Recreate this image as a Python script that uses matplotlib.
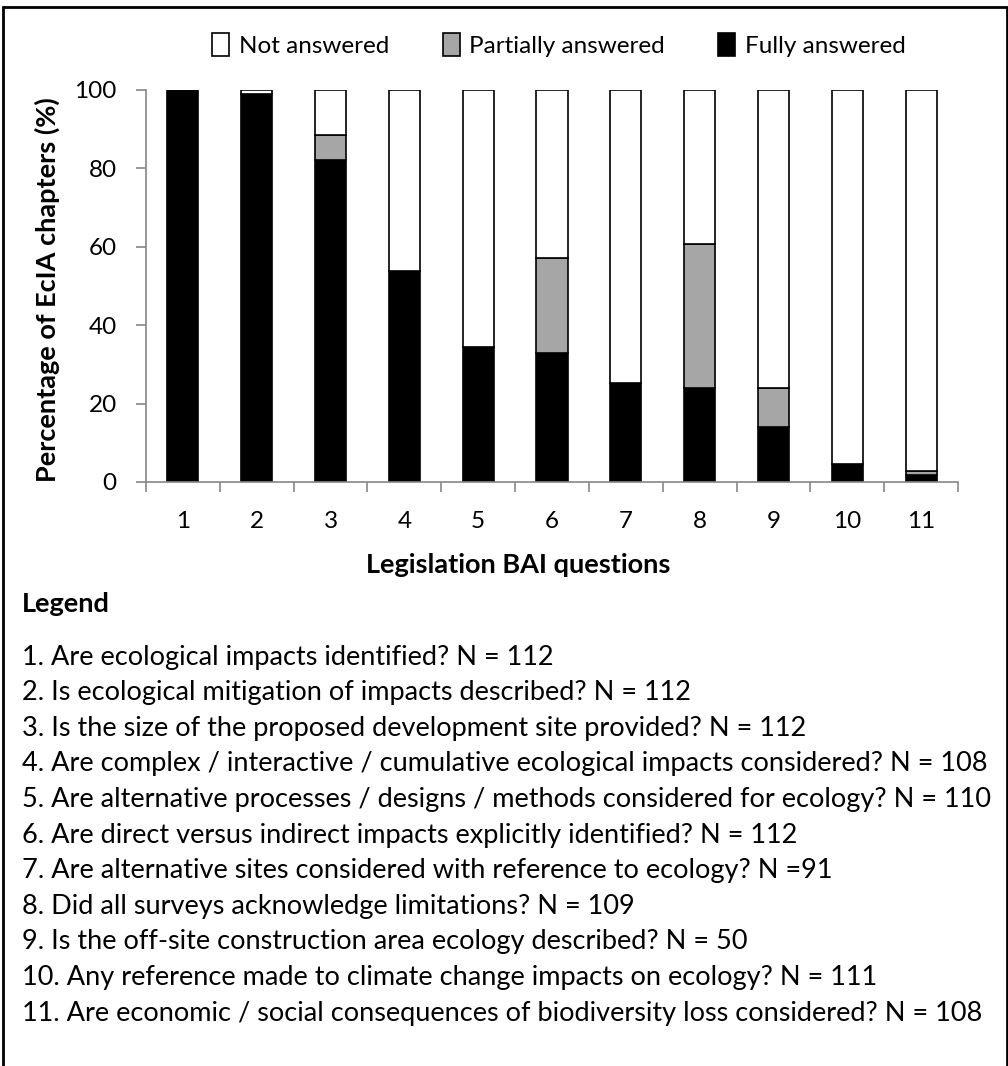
import matplotlib.pyplot as plt
import matplotlib.patches as mpatches
import numpy as np

plt.rcParams['font.family'] = ['Lato', 'DejaVu Sans']

# data (% of EcIA chapters)
questions = [1, 2, 3, 4, 5, 6, 7, 8, 9, 10, 11]
fully = [100, 99.1, 82.1, 53.7, 34.5, 33.0, 25.3, 23.9, 14.0, 4.5, 1.9]
partial = [0, 0, 6.3, 0, 0, 24.1, 0, 36.7, 10.0, 0, 0.9]
not_answered = [100 - f - p for f, p in zip(fully, partial)]

legend_lines = [
    "1. Are ecological impacts identified? N = 112",
    "2. Is ecological mitigation of impacts described? N = 112",
    "3. Is the size of the proposed development site provided? N = 112",
    "4. Are complex / interactive / cumulative ecological impacts considered? N = 108",
    "5. Are alternative processes / designs / methods considered for ecology? N = 110",
    "6. Are direct versus indirect impacts explicitly identified? N = 112",
    "7. Are alternative sites considered with reference to ecology? N =91",
    "8. Did all surveys acknowledge limitations? N = 109",
    "9. Is the off-site construction area ecology described? N = 50",
    "10. Any reference made to climate change impacts on ecology? N = 111",
    "11. Are economic / social consequences of biodiversity loss considered? N = 108",
]

W, H = 1008, 1066
fig = plt.figure(figsize=(W / 100, H / 100), dpi=100)
ax = fig.add_axes([146 / W, 1 - 482 / H, 812 / W, 392 / H])

grey_axis = '#868686'
fs = 19.5
fs_tick = 17.5

b1 = ax.bar(questions, fully, width=0.42, color='black', edgecolor='black', linewidth=1.2)
b2 = ax.bar(questions, partial, bottom=fully, width=0.42, color='#a6a6a6',
            edgecolor='black', linewidth=1.2)
bottoms = [f + p for f, p in zip(fully, partial)]
b3 = ax.bar(questions, not_answered, bottom=bottoms, width=0.42, color='white',
            edgecolor='black', linewidth=1.2)

ax.set_xlim(0.5, 11.5)
ax.set_ylim(0, 100)
ax.set_yticks([0, 20, 40, 60, 80, 100])
ax.set_xticks(questions)
ax.set_xticks(np.arange(0.5, 12, 1), minor=True)
ax.tick_params(axis='x', which='major', length=0, pad=21, labelsize=fs_tick)
ax.tick_params(axis='x', which='minor', length=7, width=1.2, color=grey_axis)
ax.tick_params(axis='y', length=7, width=1.2, color=grey_axis, pad=14, labelsize=fs_tick)
for s in ['top', 'right']:
    ax.spines[s].set_visible(False)
for s in ['left', 'bottom']:
    ax.spines[s].set_color(grey_axis)
    ax.spines[s].set_linewidth(1.2)

fig.text(47 / W, 1 - 290 / H, 'Percentage of EcIA chapters (%)', rotation=90,
         ha='center', va='center', fontsize=fs, fontweight='bold')
fig.text(518 / W, 1 - 565 / H, 'Legislation BAI questions', ha='center', va='center',
         fontsize=fs, fontweight='bold')

fig.legend([b3, b2, b1], ['Not answered', 'Partially answered', 'Fully answered'],
           loc='center', bbox_to_anchor=(559 / W, 1 - 45 / H), ncol=3, frameon=False,
           fontsize=17.5, handlelength=0.7, handleheight=1.1, handletextpad=0.4,
           columnspacing=2.2)

fig.text(22 / W, 1 - 604 / H, 'Legend', ha='left', va='center', fontsize=fs,
         fontweight='bold')
for i, line in enumerate(legend_lines):
    fig.text(22 / W, 1 - (657 + i * 35.6) / H, line, ha='left', va='center', fontsize=fs)

# outer frame
fig.add_artist(mpatches.Rectangle((3 / W, -0.05), (W - 4) / W, 1.05 - 7 / H,
                                  transform=fig.transFigure, fill=False,
                                  edgecolor='black', linewidth=2))

fig.savefig('out.png', dpi=100)
